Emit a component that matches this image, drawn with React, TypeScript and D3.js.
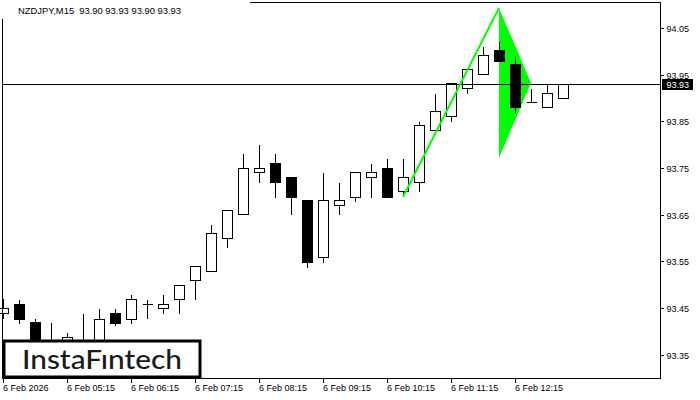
import React from "react";
import * as d3 from "d3";

const title = "NZDJPY,M15  93.90 93.93 93.90 93.93";
const opens = [93.440,93.459,93.420,93.365,93.370,93.372,93.370,93.440,93.427,93.459,93.450,93.470,93.510,93.530,93.600,93.652,93.742,93.761,93.731,93.682,93.560,93.671,93.688,93.731,93.750,93.701,93.720,93.832,93.862,93.922,93.951,94.003,93.973,93.892,93.881,93.900];
const highs = [93.472,93.470,93.429,93.420,93.399,93.440,93.450,93.450,93.480,93.470,93.480,93.500,93.540,93.630,93.660,93.782,93.802,93.782,93.731,93.682,93.742,93.720,93.742,93.761,93.772,93.772,93.851,93.911,93.932,93.962,94.011,94.022,93.992,93.922,93.932,93.930];
const lows = [93.429,93.418,93.345,93.340,93.360,93.355,93.360,93.415,93.418,93.429,93.440,93.440,93.470,93.530,93.581,93.652,93.720,93.688,93.652,93.538,93.549,93.652,93.680,93.688,93.688,93.690,93.701,93.832,93.851,93.911,93.951,93.979,93.870,93.892,93.881,93.900];
const closes = [93.450,93.427,93.360,93.355,93.388,93.380,93.427,93.418,93.470,93.460,93.459,93.500,93.540,93.611,93.660,93.750,93.750,93.720,93.688,93.549,93.682,93.682,93.742,93.742,93.688,93.731,93.842,93.872,93.932,93.962,93.992,93.979,93.881,93.892,93.911,93.930];

const timeLabels = ["6 Feb 2026","6 Feb 05:15","6 Feb 06:15","6 Feb 07:15","6 Feb 08:15","6 Feb 09:15","6 Feb 10:15","6 Feb 11:15","6 Feb 12:15"];
const timeLabelIdx = [0,4,8,12,16,20,24,28,32];
const priceTicks = [93.35,93.45,93.55,93.65,93.75,93.85,93.95,94.05];
const currentPrice = 93.93;

// pennant pattern points: [bar index, price]
const poleIdx = [25, 31];
const polePrice = [93.688, 94.093];
const flagIdx = [31, 33, 31];
const flagPrice = [94.093, 93.932, 93.772];

const logoText = "InstaF\u0131ntech";

const W = 700, H = 400;
const L = 2.5, R = 660.5, T = 2.5, B = 378.5;
const FONT = "'Liberation Sans', Arial, sans-serif";

export default function App() {
  const x = d3.scaleLinear().domain([0, 35]).range([3, 563]);
  const y = d3.scaleLinear().domain([93.3005, 94.1035]).range([378, 3]);
  const cx = (i: number) => Math.round(x(i)) + 0.5;
  const py = (p: number) => Math.round(y(p)) + 0.5;

  const bars = opens.map((o, i) => ({ o, h: highs[i], l: lows[i], c: closes[i], i }));
  const pole = d3.line<number>().x((_, k) => x(poleIdx[k])).y((p) => y(p))(polePrice) as string;
  const flag = (d3.line<number>().x((_, k) => x(flagIdx[k])).y((p) => y(p))(flagPrice) as string) + "Z";
  const cy = py(currentPrice);

  return (
    <svg width={W} height={H} style={{ position: "absolute", left: 0, top: 0, background: "#fff" }}>
      <rect x={0} y={0} width={W} height={H} fill="#fff" />
      {/* pennant fill */}
      <path d={flag} fill="#00ff00" stroke="none" />
      {/* candles */}
      <g shapeRendering="crispEdges">
        {bars.map((b) => {
          const X = cx(b.i);
          const top = py(Math.max(b.o, b.c));
          const bot = py(Math.min(b.o, b.c));
          const bull = b.c >= b.o;
          return (
            <g key={b.i}>
              <line x1={X} x2={X} y1={py(b.h)} y2={py(b.l)} stroke="#000" strokeWidth={1} />
              <path
                d={`M${X - 5},${top}H${X + 5}V${bot}H${X - 5}Z`}
                fill={bull ? "#fff" : "#000"}
                stroke="#000"
                strokeWidth={1}
              />
            </g>
          );
        })}
      </g>
      {/* current price line */}
      <line x1={L} x2={R} y1={cy} y2={cy} stroke="#000" strokeWidth={1} shapeRendering="crispEdges" />
      {/* pole */}
      <path d={pole} fill="none" stroke="#00ff00" strokeWidth={2} />
      {/* frame */}
      <rect x={0} y={0} width={250} height={19} fill="#fff" />
      <g shapeRendering="crispEdges" stroke="#000" strokeWidth={1}>
        <line x1={250} x2={R} y1={T} y2={T} />
        <line x1={L} x2={L} y1={19} y2={B} />
        <line x1={R} x2={R} y1={T} y2={B} />
        <line x1={L} x2={R} y1={B} y2={B} />
      </g>
      <text x={18} y={13.5} fontFamily={FONT} fontSize={9.4} fill="#000" style={{ whiteSpace: "pre" }}>{title}</text>
      {/* right axis */}
      <g fontFamily={FONT} fontSize={9} fill="#000">
        {priceTicks.map((p) => (
          <g key={p}>
            <line x1={R} x2={R + 3} y1={py(p)} y2={py(p)} stroke="#000" shapeRendering="crispEdges" />
            <text x={666.5} y={py(p) + 3.2}>{p.toFixed(2)}</text>
          </g>
        ))}
      </g>
      <rect x={662} y={cy - 5.5} width={31} height={11} fill="#000" />
      <text x={666.5} y={cy + 3.2} fontFamily={FONT} fontSize={9} fill="#fff">{currentPrice.toFixed(2)}</text>
      {/* bottom axis */}
      <g fontFamily={FONT} fontSize={9} fill="#000">
        {timeLabels.map((t, k) => {
          const X = cx(timeLabelIdx[k]);
          return (
            <g key={t}>
              <line x1={X} x2={X} y1={B} y2={B + 4} stroke="#000" shapeRendering="crispEdges" />
              <text x={X - 0.5} y={391}>{t}</text>
            </g>
          );
        })}
      </g>
      {/* logo */}
      <rect x={4} y={341} width={196} height={36} fill="#fff" stroke="#000" strokeWidth={3} />
      <text x={102} y={369} textAnchor="middle" fontFamily="Lato, 'Noto Sans', sans-serif" fontWeight={500}
        fontSize={26} fill="#1a1a1a" textLength={160} lengthAdjust="spacingAndGlyphs">{logoText}</text>
    </svg>
  );
}
